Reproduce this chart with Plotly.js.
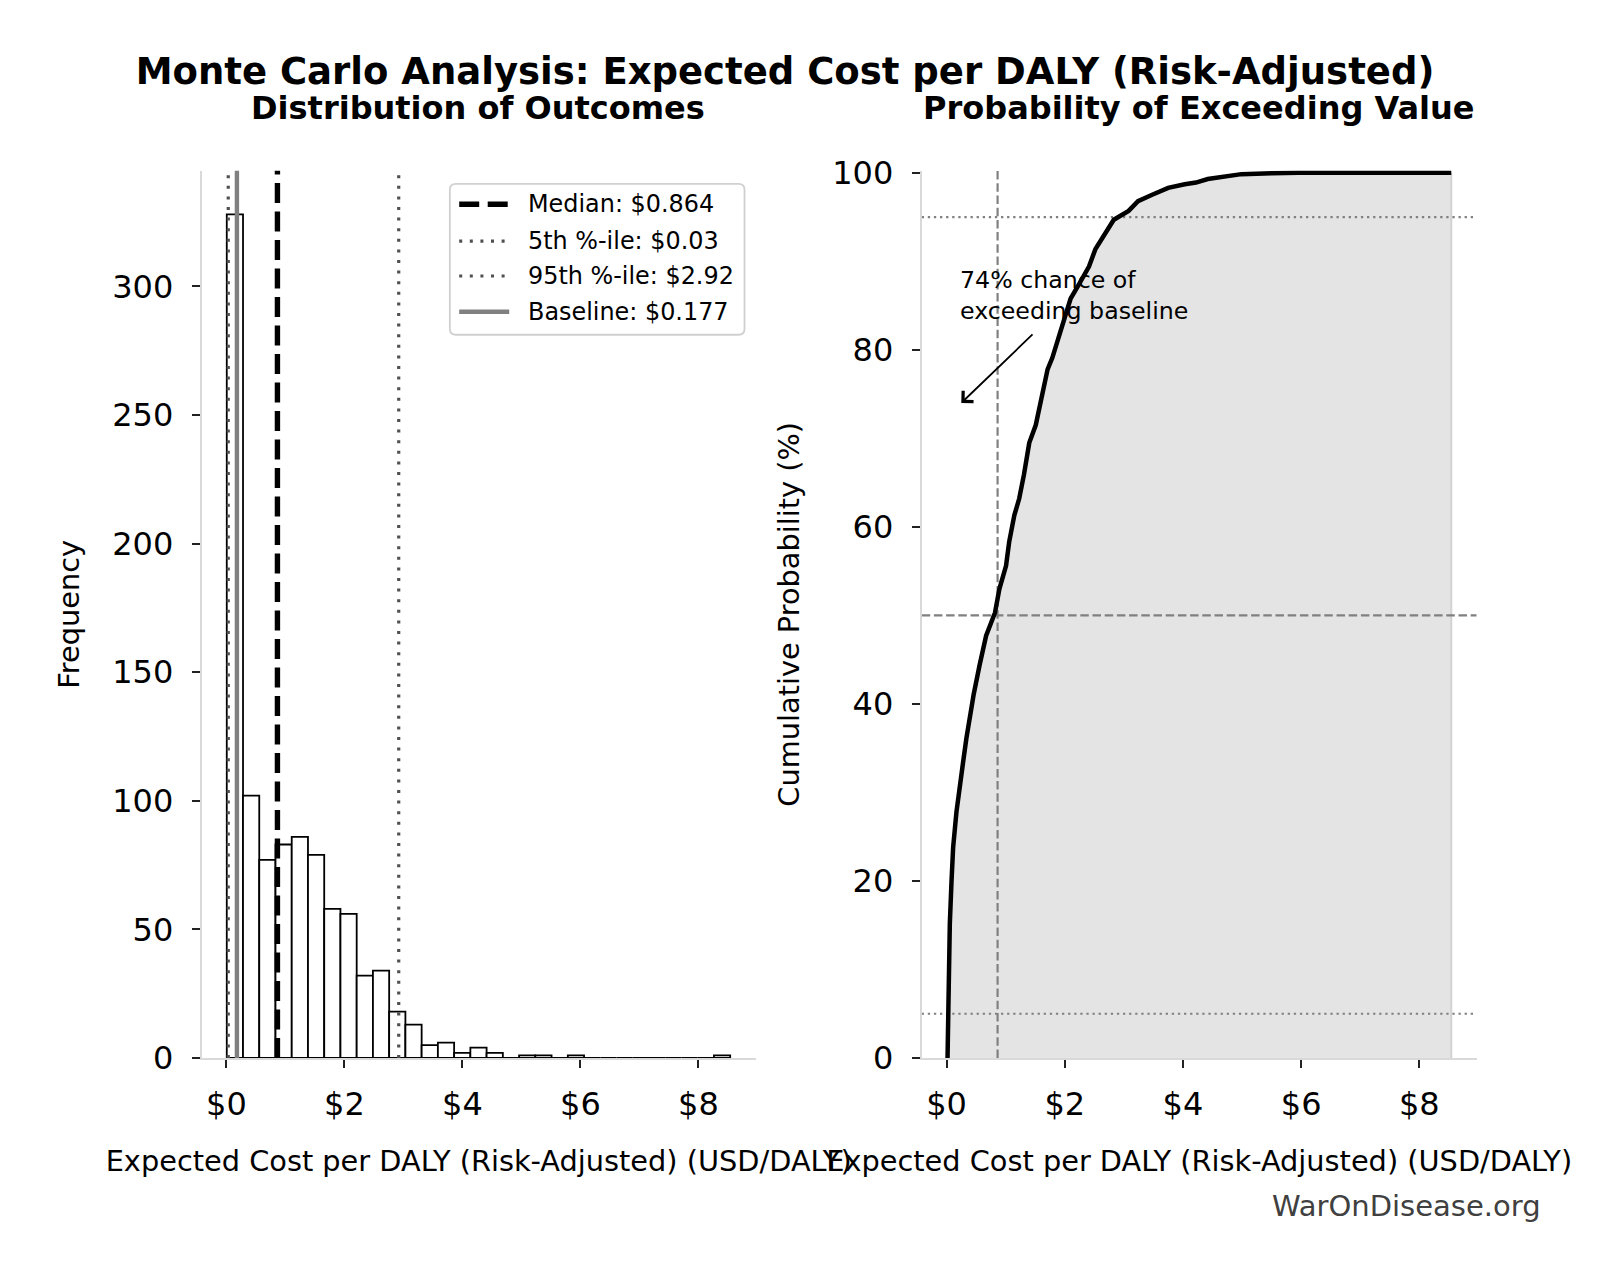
<!DOCTYPE html>
<html>
<head>
<meta charset="utf-8">
<script src="https://cdn.plot.ly/plotly-3.0.1.min.js"></script>
<style>
  html, body { margin: 0; padding: 0; background: #ffffff; }
  #chart { width: 1601px; height: 1280px; }
</style>
</head>
<body>
<div id="chart"></div>
<script>
// Histogram of simulated expected cost per DALY (USD/DALY)
const binStart = 0.005;
const binWidth = 0.2753;
const binCounts = [328, 102, 77, 83, 86, 79, 58, 56, 32, 34, 18, 13, 5, 6, 2, 4, 2, 0, 1, 1, 0, 1, 0, 0, 0, 0, 0, 0, 0, 0, 1];

// Summary statistics of the simulation
const medianValue = 0.864;
const p5Value = 0.03;
const p95Value = 2.92;
const baselineValue = 0.177;
const exceedChance = 74;

// Cumulative distribution of the sorted samples
const cdfCost = [0.017, 0.028, 0.056, 0.084, 0.112, 0.168, 0.224, 0.28, 0.336, 0.40, 0.46, 0.56, 0.67, 0.82, 0.895, 1.007, 1.06, 1.147, 1.23, 1.31, 1.40, 1.51, 1.62, 1.71, 1.79, 1.90, 1.99, 2.10, 2.24, 2.41, 2.52, 2.66, 2.83, 3.08, 3.24, 3.47, 3.75, 4.03, 4.22, 4.42, 4.99, 5.5, 5.95, 8.54];
const cdfPercent = [0, 5.3, 15.2, 19.9, 23.8, 27.8, 31.1, 33.4, 36.1, 39.1, 41.1, 44.4, 47.7, 50.3, 53.0, 55.6, 58.3, 61.3, 63.2, 65.9, 69.5, 71.5, 74.8, 77.8, 79.1, 81.5, 83.8, 85.8, 87.4, 89.4, 91.4, 93.0, 94.7, 95.7, 96.8, 97.5, 98.3, 98.7, 98.9, 99.3, 99.85, 99.95, 100, 100];

// Tick positions
const costTicks = [0, 2, 4, 6, 8];
const freqTicks = [0, 50, 100, 150, 200, 250, 300];
const probTicks = [0, 20, 40, 60, 80, 100];

// Reference probability levels on the cumulative panel
const refLevels = [5, 50, 95];

const FONT = 'DejaVu Sans, Verdana, sans-serif';
const xRange = [-0.42, 8.97];
const freqRange = [0, 345];
const probRange = [0, 100.25];

const binCenters = binCounts.map((_, i) => binStart + binWidth * (i + 0.5));
const money = v => '$' + v;

const traces = [];

// Left panel: histogram
traces.push({
  type: 'bar', x: binCenters, y: binCounts, width: binWidth,
  xaxis: 'x', yaxis: 'y',
  marker: { color: '#ffffff', line: { color: '#000000', width: 1.8 } },
  showlegend: false, hoverinfo: 'skip'
});

function vline(v, style) {
  return {
    type: 'scatter', mode: 'lines', x: [v, v], y: freqRange,
    xaxis: 'x', yaxis: 'y',
    line: { color: style.color, width: style.width, dash: style.dash },
    showlegend: false, hoverinfo: 'skip'
  };
}
const p5Style = { color: '#505050', width: 3.2, dash: '3px,7.6px' };
const p95Style = { color: '#505050', width: 3.2, dash: '3px,7.6px' };
const medStyle = { color: '#000000', width: 5.4, dash: '20px,8.5px' };
const baseStyle = { color: '#808080', width: 4.4, dash: 'solid' };
traces.push(vline(p5Value, p5Style));
traces.push(vline(baselineValue, baseStyle));
traces.push(vline(medianValue, medStyle));
traces.push(vline(p95Value, p95Style));

// Right panel: cumulative curve with shaded area
traces.push({
  type: 'scatter', mode: 'lines', x: cdfCost, y: cdfPercent,
  xaxis: 'x2', yaxis: 'y2', fill: 'tozeroy', fillcolor: '#e4e4e4',
  line: { color: 'rgba(0,0,0,0)', width: 0 },
  showlegend: false, hoverinfo: 'skip'
});
const lastCost = cdfCost[cdfCost.length - 1];
traces.push({
  type: 'scatter', mode: 'lines', x: [lastCost, lastCost], y: [0, cdfPercent[cdfPercent.length - 1]],
  xaxis: 'x2', yaxis: 'y2', line: { color: '#d2d2d2', width: 2 },
  showlegend: false, hoverinfo: 'skip'
});
refLevels.forEach(level => {
  traces.push({
    type: 'scatter', mode: 'lines', x: xRange, y: [level, level],
    xaxis: 'x2', yaxis: 'y2',
    line: { color: '#808080', width: 2.2, dash: level === 50 ? '8.5px,3.7px' : '2.3px,3.8px' },
    showlegend: false, hoverinfo: 'skip'
  });
});
traces.push({
  type: 'scatter', mode: 'lines', x: [medianValue, medianValue], y: probRange,
  xaxis: 'x2', yaxis: 'y2',
  line: { color: '#808080', width: 2.2, dash: '8.5px,3.7px' },
  showlegend: false, hoverinfo: 'skip'
});
traces.push({
  type: 'scatter', mode: 'lines', x: cdfCost, y: cdfPercent,
  xaxis: 'x2', yaxis: 'y2',
  line: { color: '#000000', width: 4.5 },
  showlegend: false, hoverinfo: 'skip'
});

// Axis styling shared by both panels
function axisStyle(extra) {
  return Object.assign({
    showgrid: false, zeroline: false, showline: true,
    linecolor: '#d9d9d9', linewidth: 2,
    ticks: 'outside', ticklen: 8, tickwidth: 2, tickcolor: '#222222',
    tickfont: { family: FONT, size: 32, color: '#000000' },
    fixedrange: true
  }, extra);
}
const axisTitleFont = { family: FONT, size: 28.8, color: '#000000' };
const costLabel = 'Expected Cost per DALY (Risk-Adjusted) (USD/DALY)';

// Legend box inside the histogram panel
const legendItems = [
  { label: 'Median: ' + money(medianValue), style: medStyle },
  { label: '5th %-ile: ' + money(p5Value), style: p5Style },
  { label: '95th %-ile: ' + money(p95Value), style: p95Style },
  { label: 'Baseline: ' + money(baselineValue), style: baseStyle }
];
const legendBox = { x0: 0.448, x1: 0.980, y0: 0.815, y1: 0.985 };
const legendRows = [0.962, 0.9206, 0.8812, 0.841];
const domainPx = { w: 553.9, h: 887.4 };
function roundedRect(b, rpx) {
  const rx = rpx / domainPx.w, ry = rpx / domainPx.h;
  return `M${b.x0 + rx},${b.y0} L${b.x1 - rx},${b.y0} Q${b.x1},${b.y0} ${b.x1},${b.y0 + ry} ` +
    `L${b.x1},${b.y1 - ry} Q${b.x1},${b.y1} ${b.x1 - rx},${b.y1} L${b.x0 + rx},${b.y1} ` +
    `Q${b.x0},${b.y1} ${b.x0},${b.y1 - ry} L${b.x0},${b.y0 + ry} Q${b.x0},${b.y0} ${b.x0 + rx},${b.y0} Z`;
}
const shapes = [{
  type: 'path', xref: 'x domain', yref: 'y domain', path: roundedRect(legendBox, 6),
  fillcolor: 'rgba(255,255,255,0.85)', line: { color: '#d0d0d0', width: 1.8 }, layer: 'above'
}];
const annotations = [];
legendItems.forEach((item, i) => {
  shapes.push({
    type: 'line', xref: 'x domain', yref: 'y domain',
    x0: 0.4649, x1: 0.5552, y0: legendRows[i], y1: legendRows[i],
    line: { color: item.style.color, width: item.style.width, dash: item.style.dash }, layer: 'above'
  });
  annotations.push({
    xref: 'x domain', yref: 'y domain', x: 0.586, y: legendRows[i],
    xanchor: 'left', yanchor: 'middle', showarrow: false, text: item.label,
    font: { family: FONT, size: 23.9, color: '#000000' }
  });
});

// Panel titles
annotations.push({
  xref: 'paper', yref: 'paper', x: 478.4 / 1601, y: 1 - 108 / 1280,
  xanchor: 'center', yanchor: 'middle', showarrow: false, text: 'Distribution of Outcomes',
  font: { family: FONT, size: 32, color: '#000000', weight: 700 }
});
annotations.push({
  xref: 'paper', yref: 'paper', x: 1199 / 1601, y: 1 - 108 / 1280,
  xanchor: 'center', yanchor: 'middle', showarrow: false, text: 'Probability of Exceeding Value',
  font: { family: FONT, size: 32, color: '#000000', weight: 700 }
});

// Exceedance note with arrow
annotations.push({
  xref: 'x2', yref: 'y2', x: 0.19, y: 82.6, xanchor: 'left', yanchor: 'bottom',
  align: 'left', showarrow: false,
  text: exceedChance + '% chance of<br>exceeding baseline',
  font: { family: FONT, size: 23.7, color: '#000000' }
});
annotations.push({
  xref: 'x2', yref: 'y2', x: 0.25, y: exceedChance, axref: 'x2', ayref: 'y2', ax: 1.48, ay: 81.9,
  text: '', showarrow: true, arrowhead: 4, arrowsize: 1.6, arrowwidth: 1.8, arrowcolor: '#000000',
  standoff: 0, startstandoff: 0
});

// Source mark
annotations.push({
  xref: 'paper', yref: 'paper', x: 1543 / 1601, y: 1 - 1206 / 1280,
  xanchor: 'right', yanchor: 'middle', showarrow: false, text: 'WarOnDisease.org',
  font: { family: FONT, size: 29, color: '#404040' }
});

const yDomain = [1 - 1058 / 1280, 1 - 170.6 / 1280];
const layout = {
  width: 1601, height: 1280,
  margin: { l: 0, r: 0, t: 0, b: 0 },
  paper_bgcolor: '#ffffff', plot_bgcolor: '#ffffff',
  showlegend: false,
  bargap: 0,
  font: { family: FONT, color: '#000000' },
  title: {
    text: 'Monte Carlo Analysis: Expected Cost per DALY (Risk-Adjusted)',
    x: 785 / 1601, xanchor: 'center', xref: 'paper',
    y: 1 - 71.5 / 1280, yanchor: 'middle', yref: 'paper',
    font: { family: FONT, size: 37, color: '#000000', weight: 700 }
  },
  xaxis: axisStyle({
    domain: [201.7 / 1601, 755.6 / 1601], anchor: 'y', range: xRange,
    tickvals: costTicks, ticktext: costTicks.map(money), ticklabelstandoff: 9,
    title: { text: costLabel, font: axisTitleFont, standoff: 28 }
  }),
  yaxis: axisStyle({
    domain: yDomain, anchor: 'x', range: freqRange,
    tickvals: freqTicks, ticktext: freqTicks.map(String), ticklabelstandoff: 12,
    title: { text: 'Frequency', font: axisTitleFont, standoff: 24 }
  }),
  xaxis2: axisStyle({
    domain: [921.7 / 1601, 1476.7 / 1601], anchor: 'y2', range: xRange,
    tickvals: costTicks, ticktext: costTicks.map(money), ticklabelstandoff: 9,
    title: { text: costLabel, font: axisTitleFont, standoff: 28 }
  }),
  yaxis2: axisStyle({
    domain: yDomain, anchor: 'x2', range: probRange,
    tickvals: probTicks, ticktext: probTicks.map(String), ticklabelstandoff: 12,
    title: { text: 'Cumulative Probability (%)', font: axisTitleFont, standoff: 24 }
  }),
  shapes: shapes,
  annotations: annotations
};

Plotly.newPlot('chart', traces, layout, { staticPlot: true, displayModeBar: false });
</script>
</body>
</html>
